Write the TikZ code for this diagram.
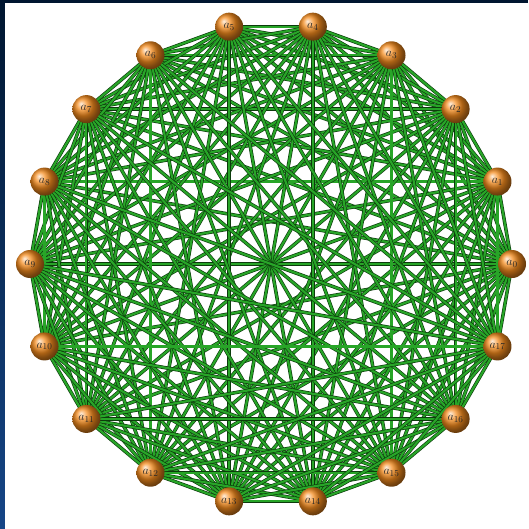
\documentclass[tikz,border=0pt]{standalone}
\usetikzlibrary{shadings}
\pgfdeclarelayer{bg}
\pgfdeclarelayer{edges}
\pgfsetlayers{bg,edges,main}
\definecolor{navy}{RGB}{0,22,48}
\definecolor{navylow}{RGB}{22,70,135}
\definecolor{edgegreen}{RGB}{40,165,40}
\definecolor{edgedark}{RGB}{12,60,12}
\definecolor{ballorange}{RGB}{245,140,30}
\tikzset{
  vertex/.style={circle, minimum size=28pt, inner sep=0pt, shading=ball, ball color=ballorange, font=\fontsize{13}{15}\selectfont, text=black!85},
  link/.style={draw=edgedark, line width=0.65pt, double=edgegreen, double distance=2.2pt}
}
\begin{document}
\begin{tikzpicture}[x=1pt,y=-1pt]
\useasboundingbox (0,0) rectangle (528,529);
\begin{pgfonlayer}{bg}
\fill[navy] (0,0) rectangle (528,3);
\shade[top color=navy, bottom color=navylow] (0,0) rectangle (5,529);
\fill[white] (5,3) rectangle (528,529);
\end{pgfonlayer}
\foreach \i in {0,...,17}
  \node[vertex] (a\i) at ({271+241*cos(20*\i)},{264-241*sin(20*\i)}) {$a_{\i}$};
\begin{pgfonlayer}{edges}
\foreach \i in {0,...,16}{
  \pgfmathtruncatemacro{\s}{\i+1}
  \foreach \j in {\s,...,17}
    \draw[link] (a\i.center) -- (a\j.center);
}
\end{pgfonlayer}
\end{tikzpicture}
\end{document}
